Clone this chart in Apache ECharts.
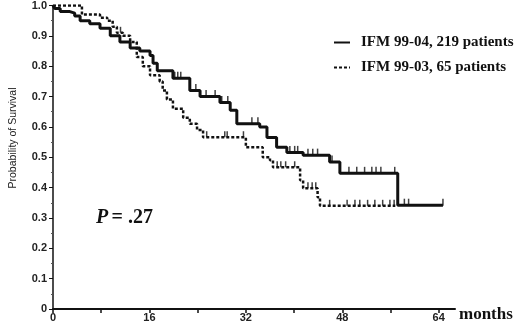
<!DOCTYPE html>
<html>
<head>
<meta charset="utf-8">
<script src="https://cdn.jsdelivr.net/npm/echarts@6/dist/echarts.min.js"></script>
<style>
  html, body { margin: 0; padding: 0; background: #fff; }
  #chart { width: 520px; height: 325px; }
</style>
</head>
<body>
<div id="chart"></div>
<script>
// IFM 99-04 (solid) - time of each drop and survival after it
const months04 = [0, 0.3, 1.2, 2.8, 3.6, 4.5, 6.1, 7.8, 9.5, 11.1, 12.8, 14.4, 16.1, 16.6, 17.3, 19.9, 22.7, 24.4, 27.7, 29.4, 30.5, 34.3, 35.5, 37.1, 38.8, 41.5, 45.9, 47.6, 57.2, 64.7]
const surv04 = [1.0, 0.99, 0.98, 0.975, 0.965, 0.95, 0.94, 0.925, 0.90, 0.88, 0.86, 0.85, 0.835, 0.81, 0.785, 0.76, 0.72, 0.70, 0.68, 0.655, 0.61, 0.60, 0.565, 0.533, 0.516, 0.507, 0.484, 0.447, 0.342, 0.342]
const censor04 = [20.2, 20.7, 21.2, 23.7, 25.4, 26.9, 28.0, 29.0, 33.0, 34.0, 39.3, 40.1, 40.6, 42.3, 43.1, 43.9, 46.3, 49.1, 50.4, 51.7, 52.9, 53.6, 54.4, 56.7, 58.3, 59.0, 64.7]

// IFM 99-03 (dotted)
const months03 = [0, 4.8, 7.8, 9.0, 9.9, 10.6, 11.6, 12.8, 13.9, 14.9, 16.1, 17.7, 18.2, 18.9, 19.9, 21.6, 22.7, 23.9, 24.9, 32.0, 34.8, 36.0, 36.5, 41.0, 41.5, 43.9, 44.3, 56.8]
const surv03 = [1.0, 0.97, 0.96, 0.95, 0.93, 0.91, 0.90, 0.88, 0.83, 0.80, 0.77, 0.75, 0.72, 0.69, 0.66, 0.63, 0.61, 0.59, 0.566, 0.533, 0.50, 0.49, 0.467, 0.424, 0.398, 0.368, 0.34, 0.34]
const censor03 = [11.2, 25.5, 28.5, 28.9, 31.6, 37.2, 37.8, 38.6, 40.1, 42.3, 43.0, 43.6, 45.9, 48.8, 50.1, 50.9, 52.2, 53.4, 54.7, 55.9, 56.6]

const xTicks = [0, 16, 32, 48, 64]
const yTicks = [0, 0.1, 0.2, 0.3, 0.4, 0.5, 0.6, 0.7, 0.8, 0.9, 1.0]

const names = ['IFM 99-04, 219 patients', 'IFM 99-03, 65 patients']

// survival value at time t (for placing censor marks on the curve)
function survAt(months, surv, t) {
  let v = surv[0]
  for (let i = 0; i < months.length; i++) {
    if (months[i] <= t) v = surv[i]
  }
  return v
}

const chart = echarts.init(document.getElementById('chart'))

const tickMark = 'path://M0,0 L0,10 L1,10 L1,0 Z'

chart.setOption({
  animation: false,
  grid: {left: 53, top: 5, right: 65, bottom: 16},
  legend: {
    data: names,
    orient: 'vertical',
    left: 328,
    top: 30,
    itemGap: 10,
    itemWidth: 16,
    itemHeight: 14,
    itemStyle: {opacity: 0},
    textStyle: {
      fontFamily: 'Liberation Serif',
      fontWeight: 'bold',
      fontSize: 15,
      color: '#111',
      padding: [0, 0, 0, 6],
    },
  },
  xAxis: {
    type: 'value',
    min: 0,
    max: 66.7,
    splitLine: {show: false},
    axisLine: {lineStyle: {color: '#111', width: 2}},
    axisTick: {
      customValues: [0, 8, 16, 24, 32, 40, 48, 56, 64],
      length: 4,
      lineStyle: {color: '#111', width: 1.5},
    },
    axisLabel: {
      customValues: xTicks,
      margin: 3,
      fontFamily: 'Liberation Sans',
      fontWeight: 'bold',
      fontSize: 11,
      color: '#222',
    },
  },
  yAxis: {
    type: 'value',
    min: 0,
    max: 1,
    interval: 0.1,
    splitLine: {show: false},
    axisLine: {show: true, lineStyle: {color: '#111', width: 1.5}},
    axisTick: {show: true, length: 4, lineStyle: {color: '#111'}},
    minorTick: {show: true, splitNumber: 2, length: 2, lineStyle: {color: '#555'}},
    axisLabel: {
      margin: 6,
      fontFamily: 'Liberation Sans',
      fontWeight: 'bold',
      fontSize: 11,
      color: '#222',
      formatter: v => (v === 0 ? '0' : v.toFixed(1)),
    },
  },
  graphic: [
    {
      type: 'text',
      x: 13,
      y: 138,
      rotation: Math.PI / 2,
      style: {
        text: 'Probability of Survival',
        fontFamily: 'Liberation Sans',
        fontSize: 10.5,
        fill: '#222',
        align: 'center',
        verticalAlign: 'middle',
      },
    },
    {
      type: 'text',
      left: 459,
      top: 306,
      style: {
        text: 'months',
        fontFamily: 'Liberation Serif',
        fontWeight: 'bold',
        fontSize: 17,
        fill: '#111',
      },
    },
    {
      type: 'text',
      left: 96,
      top: 208,
      style: {
        text: '{p|P} {n|= .27}',
        rich: {
          p: {fontFamily: 'Liberation Serif', fontStyle: 'italic', fontWeight: 'bold', fontSize: 20, fill: '#111'},
          n: {fontFamily: 'Liberation Serif', fontWeight: 'bold', fontSize: 20, fill: '#111'},
        },
      },
    },
  ],
  series: [
    {
      name: names[0],
      type: 'line',
      step: 'end',
      symbol: 'none',
      color: '#111',
      lineStyle: {color: '#111', width: 3},
      data: months04.map((m, i) => [m, surv04[i]]),
      z: 3,
    },
    {
      name: names[1],
      type: 'line',
      step: 'end',
      symbol: 'none',
      color: '#111',
      lineStyle: {color: '#111', width: 2.5, type: [3, 2]},
      data: months03.map((m, i) => [m, surv03[i]]),
      z: 2,
    },
    {
      name: 'censor04',
      type: 'scatter',
      symbol: tickMark,
      symbolSize: [1.5, 7],
      symbolOffset: [0, -3],
      itemStyle: {color: '#111'},
      data: censor04.map(t => [t, survAt(months04, surv04, t)]),
      z: 4,
    },
    {
      name: 'censor03',
      type: 'scatter',
      symbol: tickMark,
      symbolSize: [1.5, 6],
      symbolOffset: [0, -3],
      itemStyle: {color: '#111'},
      data: censor03.map(t => [t, survAt(months03, surv03, t)]),
      z: 4,
    },
  ],
})

window.addEventListener('resize', () => chart.resize())
</script>
</body>
</html>
